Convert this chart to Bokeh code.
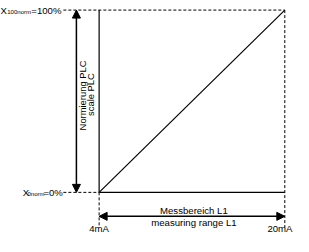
import math
from bokeh.plotting import figure
from bokeh.models import Range1d, Arrow, NormalHead
from bokeh.core.properties import value
from bokeh.embed import file_html
from bokeh.resources import INLINE

# ---- data ----
range_mA = [4, 20]          # measuring range (x)
norm_pct = [0, 100]         # normalized PLC scale (y)
tick_labels = ["4mA", "20mA"]
norm_main = ["=0%", "=100%"]
norm_sub = ["0norm", "100norm"]
axis_text = ["Normierung PLC", "scale PLC"]
range_text = ["Messbereich L1", "measuring range L1"]

FONT = value("Liberation Sans")
FS = "9.6px"
C = "#000000"

# ---- layout helpers (reference pixel -> data) ----
RX0, RX1 = 108.0, 300.0   # pixel of range_mA[0], range_mA[1]
RY0, RY1 = 206.0, 16.0    # pixel of norm_pct[0], norm_pct[1]
xmin, xmax = range_mA
ymin, ymax = norm_pct


def dx(px):
    return xmin + (px - RX0) * (xmax - xmin) / (RX1 - RX0)


def dy(py):
    return ymin + (py - RY0) * (ymax - ymin) / (RY1 - RY0)


W, H = 293, 236
p = figure(width=W, height=H, output_backend="svg", toolbar_location=None,
           x_range=Range1d(dx(6), dx(309)), y_range=Range1d(dy(252), dy(6)),
           min_border=0)
p.xaxis.visible = False
p.yaxis.visible = False
p.grid.visible = False
p.outline_line_color = None
p.background_fill_color = "white"
p.border_fill_color = "white"

DASH = "3 2"
# dashed guides
p.line([dx(71), xmax], [ymax, ymax], line_color=C, line_width=1, line_dash=DASH)
p.line([xmax, xmax], [ymax, dy(243)], line_color=C, line_width=1, line_dash=DASH)
p.line([dx(71), xmin], [ymin, ymin], line_color=C, line_width=1, line_dash=DASH)
p.line([xmin, xmin], [ymin, dy(243)], line_color=C, line_width=1, line_dash=DASH)

# solid box parts
p.line([xmin, xmin], [ymin, ymax], line_color=C, line_width=1.2)
p.line([xmin, xmax], [ymin, ymin], line_color=C, line_width=1.2)

# characteristic line
p.line(range_mA, norm_pct, line_color=C, line_width=1.2)


# arrows
def head():
    return NormalHead(size=8, fill_color=C, line_color=C, line_width=1)


p.add_layout(Arrow(start=head(), end=head(), x_start=dx(84.5), y_start=ymin,
                   x_end=dx(84.5), y_end=ymax, line_color=C, line_width=1.5))
p.add_layout(Arrow(start=head(), end=head(), x_start=xmin, y_start=dy(231),
                   x_end=xmax, y_end=dy(231), line_color=C, line_width=1.5))

# left labels X_norm
lab_y = norm_pct
main_right = [70.5, 69.0]
sub_right = [51.5, 37.5]
x_right = [35.5, 12.5]
for i in range(2):
    p.text(x=[dx(main_right[i])], y=[lab_y[i]], text=[norm_main[i]],
           text_font=FONT, text_font_size=FS, text_color=C,
           text_align="right", text_baseline="middle")
    p.text(x=[dx(sub_right[i])], y=[lab_y[i]], text=[norm_sub[i]],
           text_font=FONT, text_font_size="6px", text_color=C,
           text_align="right", text_baseline="middle", y_offset=2)
    p.text(x=[dx(x_right[i])], y=[lab_y[i]], text=["X"],
           text_font=FONT, text_font_size=FS, text_color=C,
           text_align="right", text_baseline="middle")

# bottom tick labels
p.text(x=[range_mA[0]], y=[dy(244)], text=[tick_labels[0]], text_font=FONT,
       text_font_size=FS, text_color=C, text_align="center",
       text_baseline="middle")
p.text(x=[dx(309)], y=[dy(244)], text=[tick_labels[1]], text_font=FONT,
       text_font_size=FS, text_color=C, text_align="right",
       text_baseline="middle", x_offset=-1)

# range text
p.text(x=[dx(206), dx(206)], y=[dy(224.5), dy(237.5)], text=range_text,
       text_font=FONT, text_font_size=FS, text_color=C,
       text_align="center", text_baseline="middle")

# vertical scale text
p.text(x=[dx(90.5), dx(99.5)], y=[dy(105), dy(104)], text=axis_text,
       text_font=FONT, text_font_size="9.4px", text_color=C,
       text_align="center", text_baseline="middle", angle=math.pi / 2)

open("out.html", "w").write(file_html(p, INLINE))
